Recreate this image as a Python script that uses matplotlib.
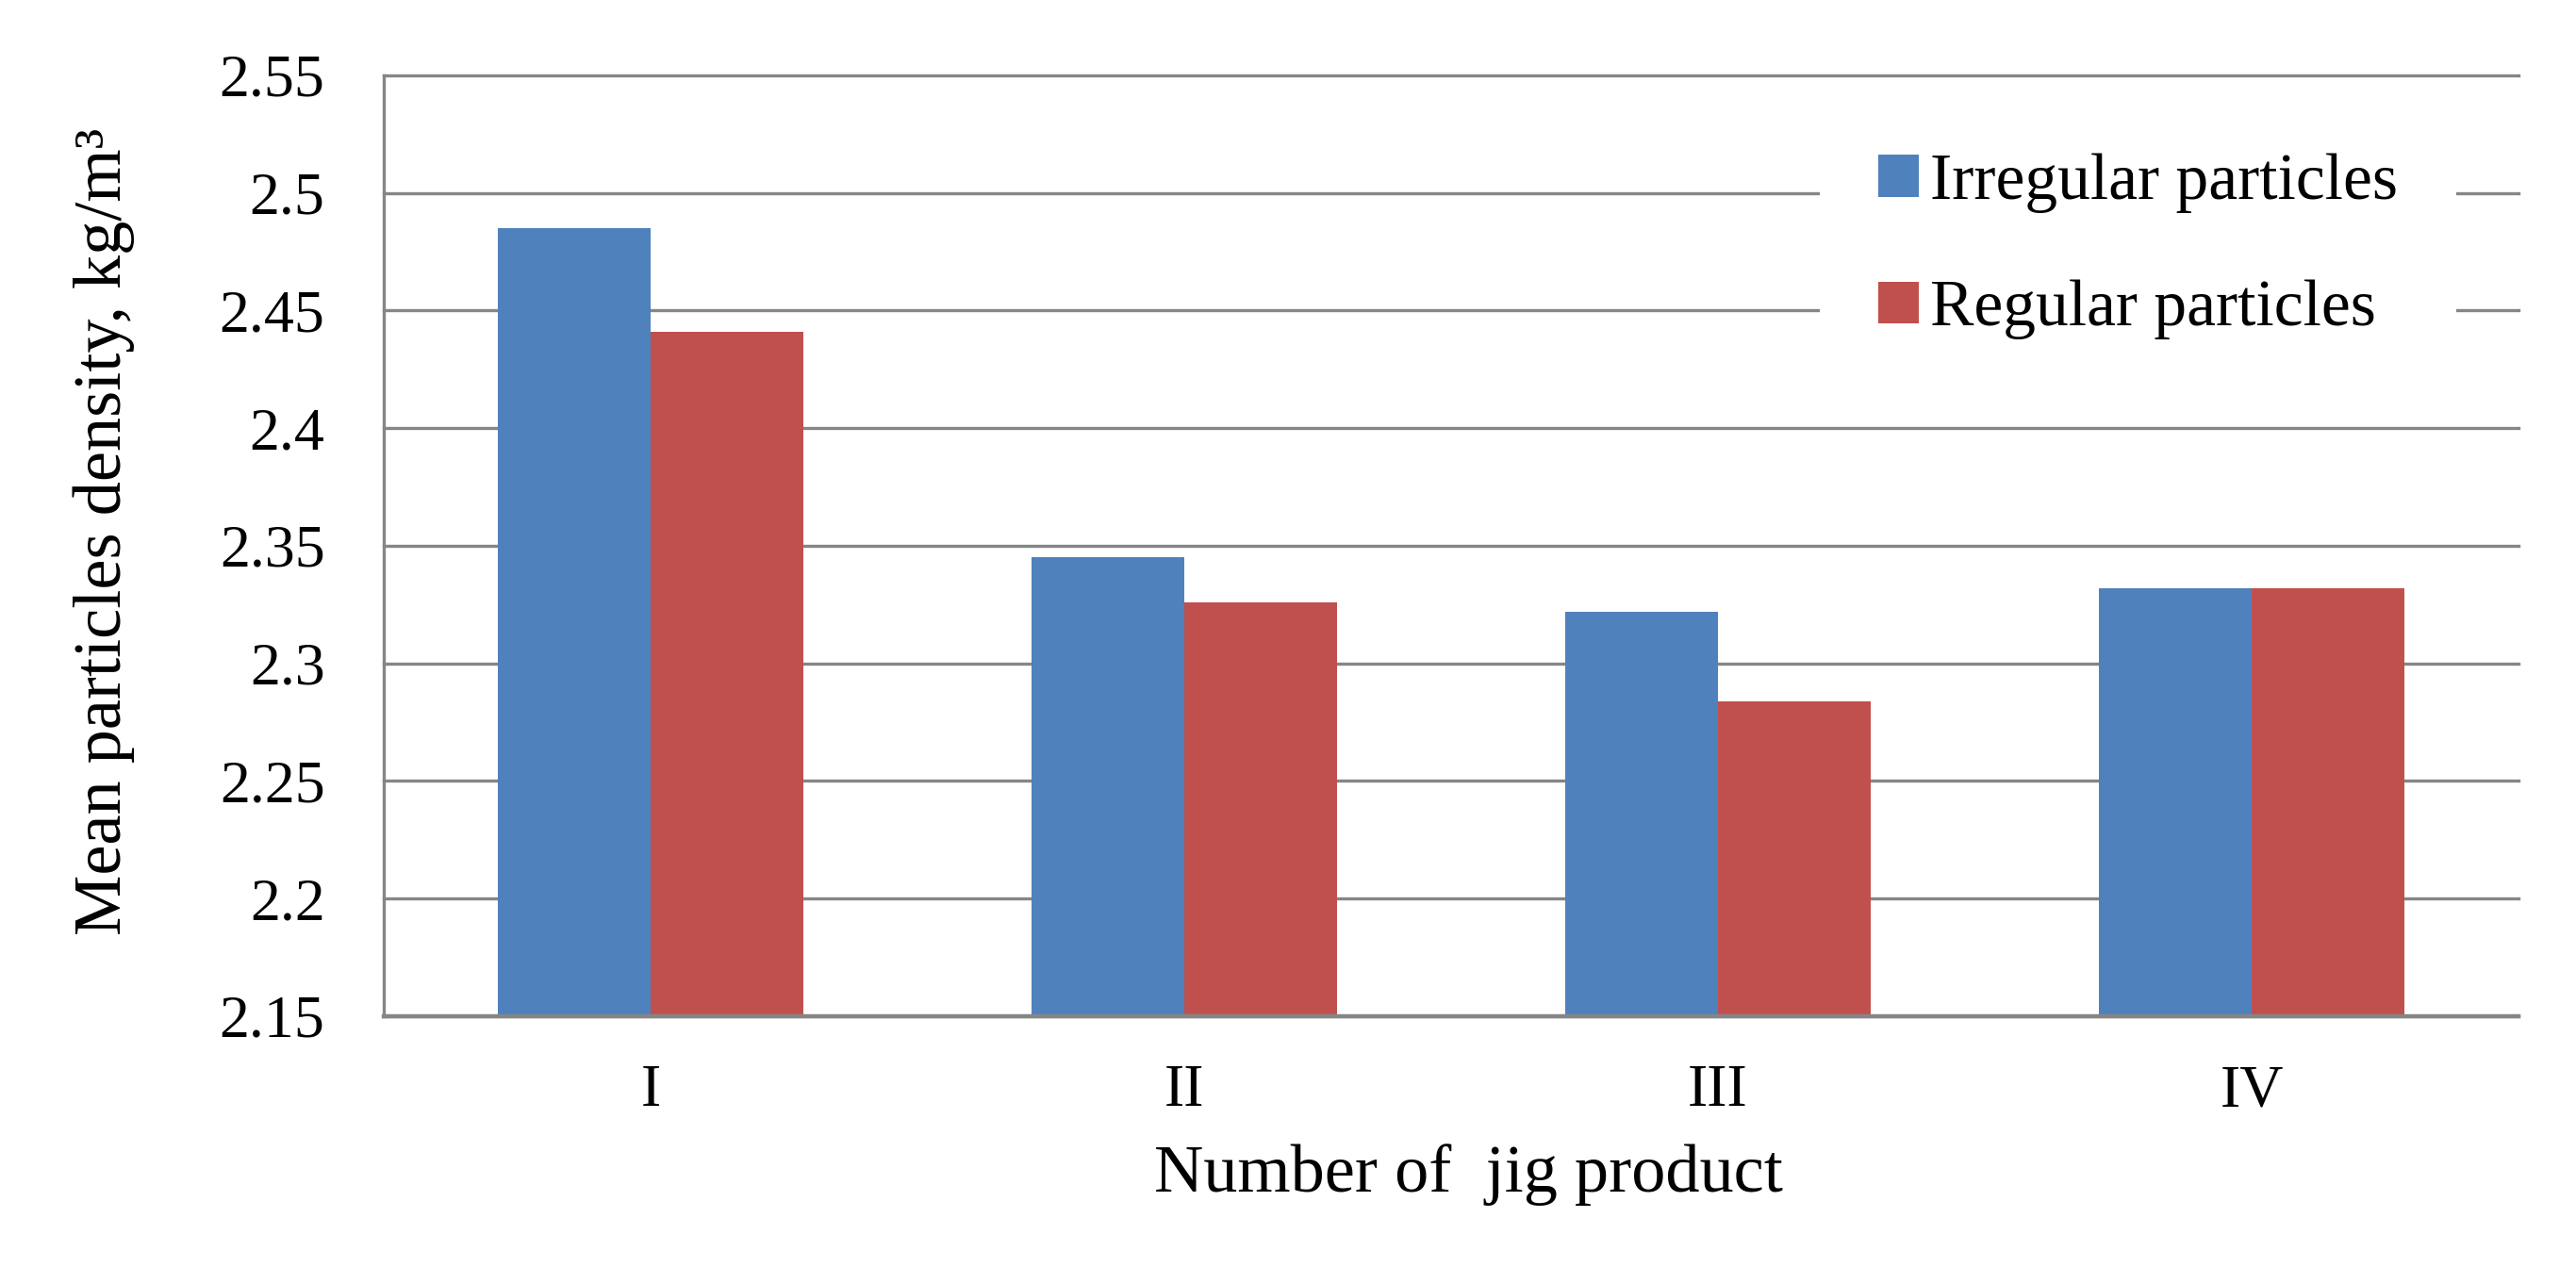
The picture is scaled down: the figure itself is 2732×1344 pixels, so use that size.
import numpy as np
import matplotlib
matplotlib.use("Agg")
import matplotlib.pyplot as plt
from matplotlib.ticker import FuncFormatter

plt.rcParams['font.family'] = ['Liberation Serif', 'DejaVu Serif']

# data
categories = ["I", "II", "III", "IV"]
irregular = [2.485, 2.345, 2.322, 2.332]
regular = [2.441, 2.326, 2.284, 2.332]
series_names = ["Irregular particles", "Regular particles"]
y_ticks = [2.15, 2.2, 2.25, 2.3, 2.35, 2.4, 2.45, 2.5, 2.55]

blue = "#4F81BD"
red = "#C0504D"
grey = "#868686"

fig = plt.figure(figsize=(27.32, 13.44), dpi=100)
ax = fig.add_axes([0.149, 0.198, 0.8287, 0.7425])

x = np.arange(len(categories))
w = 0.286
ax.bar(x - w / 2, irregular, w, color=blue, label=series_names[0], zorder=2)
ax.bar(x + w / 2, regular, w, color=red, label=series_names[1], zorder=2)

ax.set_xlim(-0.5, len(categories) - 0.5)
ax.set_ylim(y_ticks[0], y_ticks[-1])
ax.set_yticks(y_ticks)
ax.yaxis.set_major_formatter(FuncFormatter(lambda v, p: "%g" % round(v, 2)))
ax.set_xticks(x)
ax.set_xticklabels(categories)

ax.yaxis.grid(True, color=grey, linewidth=2.4)
for gl in ax.get_ygridlines():
    gl.set_clip_on(False)
ax.set_axisbelow(True)

for s in ["top", "right"]:
    ax.spines[s].set_visible(False)
ax.spines["left"].set_color(grey)
ax.spines["left"].set_linewidth(2.4)
ax.spines["bottom"].set_color(grey)
ax.spines["bottom"].set_linewidth(3.2)

ax.tick_params(axis="y", length=0, pad=45, labelsize=46)
ax.tick_params(axis="x", length=0, pad=37, labelsize=46)

ax.set_ylabel("Mean particles density, kg/m³", fontsize=52)
ax.yaxis.set_label_coords(-0.1166, 0.515)
ax.set_xlabel("Number of  jig product", fontsize=52)
ax.xaxis.set_label_coords(0.508, -0.136)

leg = ax.legend(loc="upper left", bbox_to_anchor=(0.7064, 0.9256),
                bbox_transform=fig.transFigure, borderaxespad=0,
                fontsize=50, frameon=True, facecolor="white", edgecolor="none",
                framealpha=1, fancybox=False, handlelength=0.61, handleheight=0.61,
                handletextpad=0.17, labelspacing=1.02, borderpad=0.9)

fig.savefig("out.png", dpi=100, facecolor="white")
